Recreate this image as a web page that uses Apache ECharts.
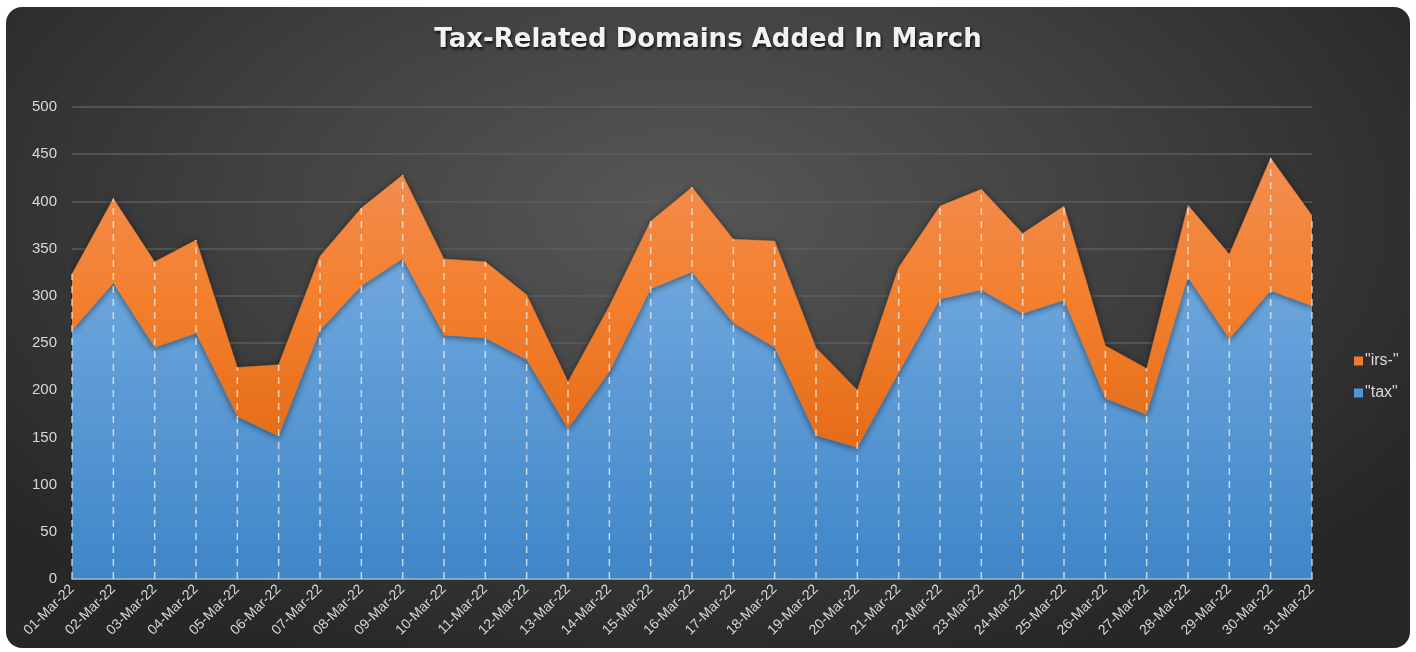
<!DOCTYPE html>
<html>
<head>
<meta charset="utf-8">
<script src="https://cdn.jsdelivr.net/npm/echarts@6/dist/echarts.min.js"></script>
<style>
    html, body { margin: 0; padding: 0; background: #ffffff; }
    #card {
        position: absolute; left: 6px; top: 7px; width: 1404px; height: 641px;
        border-radius: 16px;
        background: radial-gradient(ellipse 62% 75% at 48% 32%, #575757 0%, #434343 45%, #272727 100%);
    }
    #chart { position: absolute; left: 0; top: 0; width: 1416px; height: 652px; }
</style>
</head>
<body>
<div id="card"></div>
<div id="chart"></div>
<script>
var dates = ['01-Mar-22', '02-Mar-22', '03-Mar-22', '04-Mar-22', '05-Mar-22', '06-Mar-22', '07-Mar-22',
    '08-Mar-22', '09-Mar-22', '10-Mar-22', '11-Mar-22', '12-Mar-22', '13-Mar-22', '14-Mar-22',
    '15-Mar-22', '16-Mar-22', '17-Mar-22', '18-Mar-22', '19-Mar-22', '20-Mar-22', '21-Mar-22',
    '22-Mar-22', '23-Mar-22', '24-Mar-22', '25-Mar-22', '26-Mar-22', '27-Mar-22', '28-Mar-22',
    '29-Mar-22', '30-Mar-22', '31-Mar-22'];

var taxCounts = [263, 313, 245, 260, 172, 151, 263, 310, 339, 258, 255, 232, 159, 219, 307, 325,
    271, 245, 152, 139, 218, 296, 306, 281, 295, 191, 174, 319, 254, 305, 289];

var irsCounts = [60, 90, 91, 99, 52, 76, 79, 83, 89, 81, 81, 69, 50, 70, 72, 90,
    89, 113, 93, 61, 112, 99, 107, 85, 100, 56, 49, 77, 90, 141, 96];

var seriesNames = ['"tax"', '"irs-"'];

// drop lines go from the axis up to the top of the stack
var dropLines = dates.map(function(d, i){
    return [i, taxCounts[i] + irsCounts[i]];
});

var chartDom = document.getElementById('chart');
var chart = echarts.init(chartDom);

var option = {
    backgroundColor: 'transparent',
    animation: false,
    title: {
        text: 'Tax-Related Domains Added In March',
        left: 'center',
        top: 22,
        textStyle: {
            color: '#f2f2f2',
            fontFamily: 'DejaVu Sans',
            fontSize: 26,
            fontWeight: 'bold',
            textShadowColor: 'rgba(0,0,0,0.8)',
            textShadowBlur: 3,
            textShadowOffsetX: 1,
            textShadowOffsetY: 2
        }
    },
    legend: {
        orient: 'vertical',
        left: 1349,
        top: 348,
        itemWidth: 9,
        itemHeight: 9,
        itemGap: 16,
        icon: 'rect',
        data: [seriesNames[1], seriesNames[0]],
        textStyle: { color: '#d9d9d9', fontSize: 16, fontFamily: 'Liberation Sans', padding: [0, 0, 0, -3] }
    },
    grid: {
        left: 72,
        right: 104,
        top: 107,
        bottom: 73
    },
    xAxis: {
        type: 'category',
        boundaryGap: false,
        data: dates,
        z: 3,
        axisLine: { lineStyle: { color: '#a3b5c8', width: 1.5 } },
        axisTick: { show: false },
        axisLabel: {
            color: '#d9d9d9',
            fontSize: 14,
            fontFamily: 'Liberation Sans',
            rotate: 45,
            interval: 0,
            margin: 8
        }
    },
    yAxis: {
        type: 'value',
        min: 0,
        max: 500,
        interval: 50,
        axisLine: { show: false },
        axisTick: { show: false },
        axisLabel: { color: '#d9d9d9', fontSize: 15, fontFamily: 'Liberation Sans', margin: 15 },
        splitLine: { lineStyle: { color: '#5c5c5c', width: 1.5 } }
    },
    series: [
        {
            name: seriesNames[0],
            type: 'line',
            stack: 'total',
            data: taxCounts,
            showSymbol: false,
            itemStyle: { color: '#4e95d9' },
            lineStyle: { width: 0.5, color: '#5b9bd5' },
            areaStyle: {
                opacity: 1,
                color: new echarts.graphic.LinearGradient(0, 0, 0, 1, [
                    { offset: 0, color: '#70a8de' },
                    { offset: 1, color: '#3f86c8' }
                ]),
                shadowColor: 'rgba(0,0,0,0.45)',
                shadowBlur: 6,
                shadowOffsetY: 1
            }
        },
        {
            name: seriesNames[1],
            type: 'line',
            stack: 'total',
            data: irsCounts,
            showSymbol: false,
            itemStyle: { color: '#f07c2c' },
            lineStyle: { width: 0.5, color: '#ed7d31' },
            areaStyle: {
                opacity: 1,
                color: new echarts.graphic.LinearGradient(0, 0, 0, 1, [
                    { offset: 0, color: '#f28e52' },
                    { offset: 0.5, color: '#f37f2d' },
                    { offset: 1, color: '#e56c17' }
                ]),
                shadowColor: 'rgba(0,0,0,0.55)',
                shadowBlur: 7,
                shadowOffsetY: 1
            }
        },
        {
            name: 'drop',
            type: 'custom',
            silent: true,
            z: 5,
            data: dropLines,
            renderItem: function(params, api){
                var p0 = api.coord([api.value(0), 0]);
                var p1 = api.coord([api.value(0), api.value(1)]);
                return {
                    type: 'line',
                    shape: { x1: p0[0], y1: p0[1], x2: p1[0], y2: p1[1] },
                    style: { stroke: 'rgba(240,240,240,0.75)', lineWidth: 1.5, lineDash: [7, 6] }
                };
            }
        }
    ]
};

chart.setOption(option);
</script>
</body>
</html>
